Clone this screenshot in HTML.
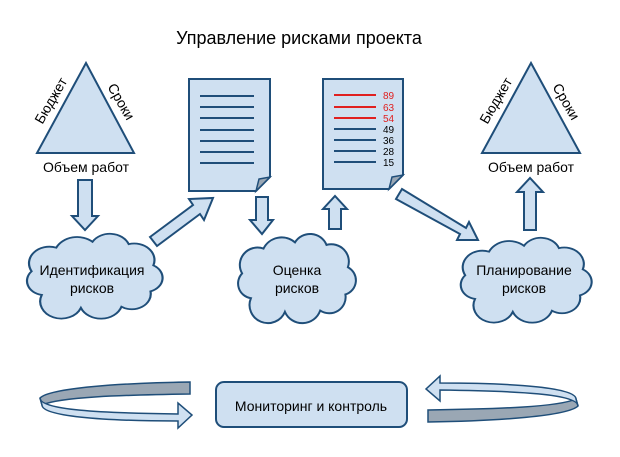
<!DOCTYPE html>
<html><head><meta charset="utf-8"><style>
html,body{margin:0;padding:0;background:#fff;}
svg{display:block;font-family:"Liberation Sans",sans-serif;}
</style></head><body>
<svg width="620" height="457" viewBox="0 0 620 457" xmlns="http://www.w3.org/2000/svg">
<defs>
<path id="cloud" d="M15,55 A12,12 0 0 1 8,35 A14,14 0 0 1 25,15 A16,16 0 0 1 50,10 A14,14 0 0 1 75,12 A14,14 0 0 1 92,30 A12,12 0 0 1 90,52 A13,13 0 0 1 70,65 A15,15 0 0 1 42,66 A14,14 0 0 1 15,55 Z"/>
</defs>
<g fill="#cfe0f1" stroke="#1f4e79" stroke-width="2" stroke-linejoin="miter">
<polygon points="86,63 37,153 134,153"/>
<polygon points="531,63 482,153 580,153"/>
<path d="M189,79 H270 V177 L256,191 H189 Z"/>
<path d="M323,79 H403 V175 L389,189 H323 Z"/>
<path d="M78,180 H92 V216 H98 L85,230 L72,216 H78 Z"/>
<path d="M256,197 H268 V220 H273 L262,234 L250,220 H256 Z"/>
<path d="M329,229 H341 V209 H347 L335,196 L323,209 H329 Z"/>
<path d="M524,230 H536 V192 H543 L530,178 L517,192 H524 Z"/>
<path d="M150,237 L193,205 L189,199 L213,198 L204,220 L200,214 L157,246 Z"/>
<path d="M396,199 L460,234 L457,240 L478,240 L469,222 L466,228 L402,189 Z"/>
<use href="#cloud" transform="translate(20,230) scale(1.45,1.18)" stroke-width="1.5"/>
<use href="#cloud" transform="translate(232,230) scale(1.26,1.24)" stroke-width="1.6"/>
<use href="#cloud" transform="translate(454,234) scale(1.4,1.18)" stroke-width="1.5"/>
<rect x="216" y="382" width="191" height="45" rx="8"/>
</g>
<g fill="#9aa7b4" stroke="#1f4e79" stroke-width="1.5"><path d="M190,382 C120,383 50,388 40,398 L42,405 C60,397 120,395 190,394 Z"/><path d="M190,382 C120,383 50,388 40,398 L42,405 C60,397 120,395 190,394 Z" transform="translate(618,804) scale(-1,-1)"/></g>
<g fill="#cfe0f1" stroke="#1f4e79" stroke-width="1.5"><path d="M40,398 C40,410 100,413 178,414 L178,403 L192,415 L178,428 L178,421 C100,421 42,416 42,405 Z"/><path d="M40,398 C40,410 100,413 178,414 L178,403 L192,415 L178,428 L178,421 C100,421 42,416 42,405 Z" transform="translate(618,804) scale(-1,-1)"/></g>
<path d="M256,191 L259,179 L270,177 Z" fill="#9aa7b4" stroke="#1f4e79" stroke-width="1.5"/>
<path d="M389,189 L392,177 L403,175 Z" fill="#9aa7b4" stroke="#1f4e79" stroke-width="1.5"/>
<g stroke="#1f4e79" stroke-width="2">
<line x1="200" y1="96" x2="254" y2="96"/><line x1="200" y1="107" x2="254" y2="107"/><line x1="200" y1="118" x2="254" y2="118"/><line x1="200" y1="130" x2="254" y2="130"/><line x1="200" y1="141" x2="254" y2="141"/><line x1="200" y1="152" x2="254" y2="152"/><line x1="200" y1="163" x2="254" y2="163"/>
<line x1="334" y1="129" x2="376" y2="129"/><line x1="334" y1="140" x2="376" y2="140"/><line x1="334" y1="151" x2="376" y2="151"/><line x1="334" y1="162" x2="376" y2="162"/>
</g>
<g stroke="#e02020" stroke-width="2"><line x1="334" y1="95" x2="376" y2="95"/><line x1="334" y1="107" x2="376" y2="107"/><line x1="334" y1="118" x2="376" y2="118"/></g>
<g font-size="10">
<text x="383" y="99" fill="#e02020">89</text><text x="383" y="111" fill="#e02020">63</text><text x="383" y="122" fill="#e02020">54</text>
<text x="383" y="133">49</text><text x="383" y="144">36</text><text x="383" y="155">28</text><text x="383" y="166">15</text>
</g>
<g font-size="14" fill="#000" text-anchor="middle">
<text x="299" y="44" font-size="18">Управление рисками проекта</text>
<text x="86" y="172">Объем работ</text>
<text x="531" y="172">Объем работ</text>
<text transform="translate(55,103) rotate(-60)">Бюджет</text>
<text transform="translate(117,104) rotate(60)">Сроки</text>
<text transform="translate(500,103) rotate(-60)">Бюджет</text>
<text transform="translate(562,104) rotate(60)">Сроки</text>
<text x="92" y="275">Идентификация</text><text x="92" y="293">рисков</text>
<text x="297" y="275">Оценка</text><text x="297" y="293">рисков</text>
<text x="524" y="275">Планирование</text><text x="524" y="293">рисков</text>
<text x="311" y="411">Мониторинг и контроль</text>
</g>
</svg>
</body></html>
